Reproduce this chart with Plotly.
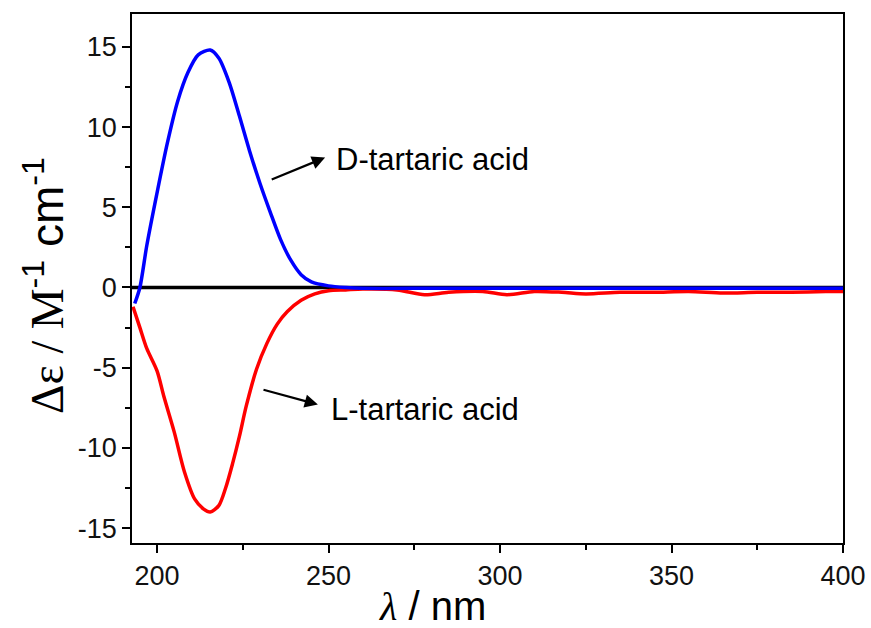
import plotly.graph_objects as go

# D-tartaric acid (blue)
wl_d = [193.5, 195, 197, 200, 203, 206, 209, 212, 215.5, 218, 221, 224, 227, 230, 233, 236, 239, 242, 245, 250, 255, 260, 280, 300, 320, 340, 360, 380, 400]
de_d = [-1.0, 0.0, 2.6, 5.9, 9.0, 11.6, 13.4, 14.5, 14.8, 14.3, 12.8, 10.7, 8.5, 6.5, 4.7, 3.0, 1.7, 0.8, 0.35, 0.1, 0.0, -0.05, -0.05, -0.05, -0.05, -0.05, -0.05, -0.05, -0.05]

# L-tartaric acid (red)
wl_l = [193, 195, 197, 200, 202, 205, 208, 211, 213.5, 215.5, 218, 220, 222, 224, 226, 229, 232, 235, 238, 242, 246, 250, 255, 260, 270, 278, 285, 295, 302, 310, 318, 325, 335, 345, 355, 365, 375, 385, 395, 400]
de_l = [-1.2, -2.5, -3.8, -5.2, -6.8, -9.0, -11.5, -13.2, -13.8, -14.0, -13.6, -12.5, -11.0, -9.3, -7.4, -5.1, -3.5, -2.3, -1.5, -0.8, -0.4, -0.2, -0.15, -0.1, -0.15, -0.45, -0.3, -0.25, -0.45, -0.25, -0.3, -0.4, -0.3, -0.3, -0.25, -0.35, -0.3, -0.3, -0.25, -0.25]

zero_x = [192.7, 400]
zero_y = [0, 0]

labels = ["D-tartaric acid", "L-tartaric acid"]

x_ticks = [200, 250, 300, 350, 400]
x_labels = ["200", "250", "300", "350", "400"]
y_ticks = [-15, -10, -5, 0, 5, 10, 15]
y_labels = ["-15", "-10", "-5", "0", "5", "10", "15"]

FONT = "Arial, Liberation Sans"
SERIF = "Times New Roman, Liberation Serif"

fig = go.Figure()
fig.add_trace(go.Scatter(x=zero_x, y=zero_y, mode="lines", line=dict(color="black", width=3.5), showlegend=False))
fig.add_trace(go.Scatter(x=wl_l, y=de_l, mode="lines", line=dict(color="#ff0000", width=3.5, shape="spline", smoothing=0.8), showlegend=False))
fig.add_trace(go.Scatter(x=wl_d, y=de_d, mode="lines", line=dict(color="#0000ff", width=3.5, shape="spline", smoothing=0.8), showlegend=False))

fig.add_annotation(x=249.0, y=8.1, ax=233.0, ay=6.7, xref="x", yref="y", axref="x", ayref="y",
                   text="", showarrow=True, arrowhead=2, arrowsize=1.2, arrowwidth=2.2, arrowcolor="black")
fig.add_annotation(x=251.6, y=8.0, xref="x", yref="y", text=labels[0], showarrow=False,
                   xanchor="left", yanchor="middle", font=dict(family=FONT, size=31, color="black"))
fig.add_annotation(x=246.9, y=-7.3, ax=230.6, ay=-6.35, xref="x", yref="y", axref="x", ayref="y",
                   text="", showarrow=True, arrowhead=2, arrowsize=1.2, arrowwidth=2.2, arrowcolor="black")
fig.add_annotation(x=250.2, y=-7.6, xref="x", yref="y", text=labels[1], showarrow=False,
                   xanchor="left", yanchor="middle", font=dict(family=FONT, size=31, color="black"))

# axis titles
fig.add_annotation(xref="paper", yref="paper", x=(432 - 132) / 711, y=-(606 - 543) / 529,
                   text=f"<span style='font-family:{SERIF};font-style:italic'>λ</span> / nm",
                   showarrow=False, xanchor="center", yanchor="middle",
                   font=dict(family=FONT, size=40, color="black"))
fig.add_annotation(xref="paper", yref="paper", x=-(132 - 44) / 711, y=(543 - 286) / 529,
                   text=f"<span style='font-family:{SERIF}'>Δε / M</span><sup>-1</sup> cm<sup>-1</sup>",
                   showarrow=False, xanchor="center", yanchor="middle", textangle=-90,
                   font=dict(family=FONT, size=46, color="black"))

axis_common = dict(showline=True, linecolor="black", linewidth=1.5, mirror=True, ticks="outside",
                   ticklen=8, tickwidth=1.5, tickcolor="black", showgrid=False, zeroline=False,
                   automargin=False,
                   tickfont=dict(family=FONT, size=27, color="#111"))

fig.update_layout(
    width=871, height=628,
    margin=dict(l=132, r=28, t=14, b=85),
    paper_bgcolor="white", plot_bgcolor="white",
    xaxis=dict(range=[192.7, 400], tickvals=x_ticks, ticktext=x_labels,
               minor=dict(dtick=25, tick0=200, ticks="outside", ticklen=5, tickcolor="black", tickwidth=1.5),
               **axis_common),
    yaxis=dict(range=[-15.93, 17.05], tickvals=y_ticks, ticktext=y_labels,
               minor=dict(dtick=2.5, tick0=0, ticks="outside", ticklen=5, tickcolor="black", tickwidth=1.5),
               **axis_common),
)

fig.write_html("out.html")
